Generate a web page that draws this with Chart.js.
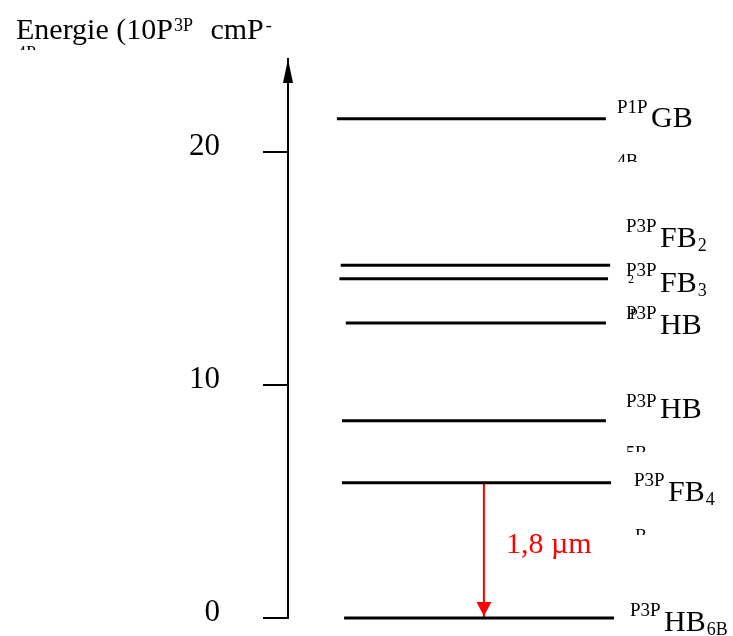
<!DOCTYPE html>
<html lang="fr">
<head>
<meta charset="UTF-8">
<title>Niveaux d'energie</title>
<script src="https://cdn.jsdelivr.net/npm/chart.js"></script>
<style>
  body { margin: 0; background: #fff; }
  canvas { display: block; }
</style>
</head>
<body>
<canvas id="levels" width="733" height="636"></canvas>
<script>
// energy levels, 10^3 cm^-1
const levelEnergy = [21.43, 15.15, 14.56, 12.67, 8.47, 5.81, 0];
// horizontal extent of each level line (x axis units 0..100)
const levelStart = [11.5, 12.4, 12.1, 13.6, 12.7, 12.7, 13.2];
const levelEnd = [74.8, 75.8, 75.3, 74.8, 74.8, 76.0, 76.7];
// level labels (as they appear in the picture)
const labelSup = ['P1P', 'P3P', 'P3P', 'P3P', 'P3P', 'P3P', 'P3P'];
const labelMain = ['GB', 'FB', 'FB', 'HB', 'HB', 'FB', 'HB'];
const labelSub = ['', '2', '3', '', '', '4', '6B'];
// y axis ticks
const tickValues = [0, 10, 20];
// transition arrow
const transFrom = 5.81;
const transTo = 0;
const transX = 46.1;
const transText = '1,8 \u00b5m';

// label placement (style only): x of superscript, baseline shifts from the level line
const labelLayout = [
  { x: 617, sup: -5.4, main: 8 },
  { x: 626, sup: -32.7, main: -18.3 },
  { x: 626, sup: -2.7, main: 13 },
  { x: 626, sup: -4, main: 11.6 },
  { x: 626, sup: -14, main: -3 },
  { x: 634, sup: 3, main: 18 },
  { x: 630, sup: -1.6, main: 13.4 }
];
// clipped / overlapping text fragments left over in the picture
const fragments = [
  { t: '4B', x: 617, base: 167, clip: 162, size: 18 },
  { t: '5B', x: 626, base: 459, clip: 452, size: 18 },
  { t: 'B', x: 635, base: 542, clip: 535, size: 18 },
  { t: '4P', x: 17, base: 59, clip: 50, size: 18 },
  { t: '2', x: 628, base: 283, clip: 290, size: 12 },
  { t: 'P', x: 630, base: 319, clip: 325, size: 14 }
];

const SERIF = "'Liberation Serif', 'Times New Roman', serif";
Chart.defaults.font.family = SERIF;
Chart.defaults.color = '#000';

const datasets = levelEnergy.map((e, i) => ({
  data: [{ x: levelStart[i], y: e }, { x: levelEnd[i], y: e }],
  borderColor: '#000',
  borderWidth: 3,
  pointRadius: 0,
  clip: false
}));
datasets.push({
  data: [{ x: transX, y: transFrom }, { x: transX, y: transTo }],
  borderColor: '#ff0000',
  borderWidth: 2,
  pointRadius: 0,
  clip: false
});

function txt(ctx, s, x, y, size, color) {
  ctx.font = size + 'px ' + SERIF;
  ctx.fillStyle = color || '#000';
  ctx.fillText(s, x, y);
  return ctx.measureText(s).width;
}

const decor = {
  id: 'decor',
  afterDraw(chart) {
    const ctx = chart.ctx;
    const xs = chart.scales.x, ys = chart.scales.y;
    const ax = chart.chartArea.left;
    const top = chart.chartArea.top;
    ctx.save();
    ctx.textBaseline = 'alphabetic';
    ctx.textAlign = 'left';

    // axis arrowhead
    ctx.fillStyle = '#000';
    ctx.beginPath();
    ctx.moveTo(ax, top);
    ctx.lineTo(ax - 5, top + 24);
    ctx.lineTo(ax + 5, top + 24);
    ctx.closePath();
    ctx.fill();

    // transition arrowhead + text
    const px = xs.getPixelForValue(transX);
    const tip = ys.getPixelForValue(transTo) - 2;
    ctx.fillStyle = '#ff0000';
    ctx.beginPath();
    ctx.moveTo(px, tip);
    ctx.lineTo(px - 7.5, tip - 14);
    ctx.lineTo(px + 7.5, tip - 14);
    ctx.closePath();
    ctx.fill();
    txt(ctx, transText, px + 22, 553, 30, '#ff0000');

    // title
    let w = txt(ctx, 'Energie (10P', 16, 39, 30);
    let cx = 16 + w;
    w = txt(ctx, '3P', cx + 1, 31, 18);
    cx += w + 1;
    w = txt(ctx, ' cmP', cx + 10, 39, 30);
    cx += w + 10;
    txt(ctx, '-', cx + 2, 31, 18);

    // level labels
    levelEnergy.forEach((e, i) => {
      const ly = ys.getPixelForValue(e);
      const L = labelLayout[i];
      txt(ctx, labelSup[i], L.x, ly + L.sup, 19);
      const mw = txt(ctx, labelMain[i], L.x + 34, ly + L.main, 30);
      if (labelSub[i]) txt(ctx, labelSub[i], L.x + 34 + mw + 1, ly + L.main + 4, 18);
    });

    // fragments
    fragments.forEach(f => {
      ctx.save();
      ctx.beginPath();
      ctx.rect(f.x - 2, f.base - 20, 60, f.clip - (f.base - 20));
      ctx.clip();
      txt(ctx, f.t, f.x, f.base, f.size);
      ctx.restore();
    });
    ctx.restore();
  }
};

new Chart(document.getElementById('levels'), {
  type: 'line',
  data: { datasets },
  options: {
    responsive: false,
    animation: false,
    events: [],
    layout: { padding: { top: 59, bottom: 18, right: 20, left: 0 } },
    plugins: { legend: { display: false }, tooltip: { enabled: false } },
    scales: {
      x: { type: 'linear', min: 0, max: 100, display: false },
      y: {
        type: 'linear',
        min: 0,
        max: 24,
        afterBuildTicks: s => { s.ticks = tickValues.map(v => ({ value: v })); },
        afterFit: s => { s.width = 288; s.paddingTop = 0; s.paddingBottom = 0; },
        border: { display: true, color: '#000', width: 2 },
        grid: { drawOnChartArea: false, drawTicks: true, tickLength: 25, color: '#000', lineWidth: 2 },
        ticks: { font: { size: 31 }, color: '#000', padding: 43, labelOffset: -5 }
      }
    }
  },
  plugins: [decor]
});
</script>
</body>
</html>
